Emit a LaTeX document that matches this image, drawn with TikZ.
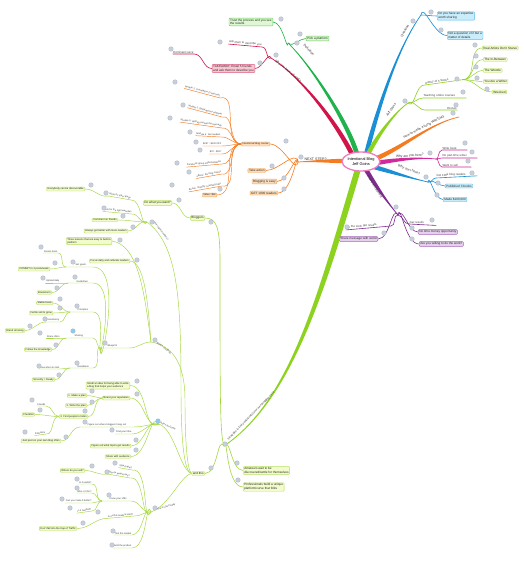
\documentclass[tikz,border=0pt]{standalone}
\usepackage{fontspec}
\setmainfont{Liberation Sans}
\usetikzlibrary{calc,backgrounds,shapes.geometric}
\definecolor{cBlue}{HTML}{1A8FD6}
\definecolor{cBlueL}{HTML}{C9EDFB}
\definecolor{cBlueB}{HTML}{5BBDEB}
\definecolor{cGreen}{HTML}{20B24B}
\definecolor{cGreenL}{HTML}{DDF8D2}
\definecolor{cGreenB}{HTML}{6CCB5F}
\definecolor{cRed}{HTML}{D0154A}
\definecolor{cPinkL}{HTML}{F8C6D3}
\definecolor{cPinkB}{HTML}{DF5A80}
\definecolor{cOrange}{HTML}{F57B20}
\definecolor{cOrangeL}{HTML}{FDDDB9}
\definecolor{cOrangeB}{HTML}{F6A55A}
\definecolor{cLime}{HTML}{8DD21F}
\definecolor{cLimeLn}{HTML}{A3D83C}
\definecolor{cLimeL}{HTML}{F1FBCB}
\definecolor{cLimeB}{HTML}{B9E063}
\definecolor{cMag}{HTML}{D02A9B}
\definecolor{cPurple}{HTML}{7E2D8F}
\definecolor{cPurpleL}{HTML}{E6D0EE}
\definecolor{cPurpleB}{HTML}{A567B5}
\definecolor{cCenter}{HTML}{F07CC0}
\definecolor{cDot}{HTML}{C8CFDA}
\definecolor{cDotB}{HTML}{A9B3C1}
\definecolor{cDotBl}{HTML}{8EC9EE}
\newcommand\taperbr[7]{%
  \path ($(#2)!#6!90:(#3)$) coordinate (tp1) ($(#2)!#6!-90:(#3)$) coordinate (tq1)
        ($(#5)!#7!-90:(#4)$) coordinate (tp2) ($(#5)!#7!90:(#4)$) coordinate (tq2);
  \fill[#1] (tp1) .. controls ($(#3)+(tp1)-(#2)$) and ($(#4)+(tp2)-(#5)$) .. (tp2)
     -- (tq2) .. controls ($(#4)+(tq2)-(#5)$) and ($(#3)+(tq1)-(#2)$) .. (tq1) -- cycle;
}
\tikzset{
 bx/.style={draw, rounded corners=0.9pt, line width=0.4pt, inner xsep=1.1pt, inner ysep=0.9pt, align=left, text=black!85, font=\fontsize{3.1}{3.7}\selectfont},
 bxs/.style={bx, font=\fontsize{2.6}{3.1}\selectfont, inner ysep=0.8pt},
 blbx/.style={bx, fill=cBlueL, draw=cBlueB},
 grbx/.style={bx, fill=cGreenL, draw=cGreenB},
 pkbx/.style={bx, fill=cPinkL, draw=cPinkB},
 orbx/.style={bx, fill=cOrangeL, draw=cOrangeB},
 orbxs/.style={bxs, fill=cOrangeL, draw=cOrangeB},
 lmbx/.style={bx, fill=cLimeL, draw=cLimeB},
 lmbxs/.style={bxs, fill=cLimeL, draw=cLimeB},
 pubx/.style={bx, fill=cPurpleL, draw=cPurpleB},
 lab/.style={font=\fontsize{2.9}{3.4}\selectfont, text=black!75, inner xsep=0.4pt, inner ysep=0.7pt},
 labs/.style={lab, font=\fontsize{2.4}{2.9}\selectfont},
 bl/.style={font=\fontsize{3.3}{3.8}\selectfont, text=black!80, inner sep=0.3pt},
 cn/.style={line width=0.6pt, line cap=round},
 cns/.style={line width=0.45pt, line cap=round},
}
\begin{document}
\begin{tikzpicture}[x=1pt,y=-1pt]
\useasboundingbox (0,0) rectangle (524,563);
% ---------- centre ----------
\draw[cCenter, line width=1.3pt, fill=white] (361,161.5) ellipse (19 and 9.5);
\node[font=\fontsize{3.9}{4.6}\selectfont, align=center, inner sep=0pt] (c) at (361,161.5) {Intentional Blog\\Jeff Goins};
% ---------- branch coordinates ----------
\coordinate (qA) at (366,155); \coordinate (qE) at (421,15);
\coordinate (dA) at (357,154); \coordinate (dE) at (288,43);
\coordinate (rA) at (353,156); \coordinate (rE) at (271,58);
\coordinate (nA) at (346,161); \coordinate (nE) at (298,162);
\coordinate (jA) at (368,154); \coordinate (jE) at (408,103);
\coordinate (oA) at (372,160); \coordinate (oE) at (459,117);
\coordinate (mA) at (376,163); \coordinate (mE) at (436,159);
\coordinate (wA) at (374,167); \coordinate (wE) at (428,182);
\coordinate (pA) at (365,168); \coordinate (pE) at (398,215);
\coordinate (sA) at (358,169); \coordinate (sE) at (224,446);
\coordinate (h1) at (147,222); \coordinate (h2) at (151,342);
\coordinate (h3) at (159,424); \coordinate (h4) at (151,512);
% ---------- Question (blue) ----------
\node[bl, rotate=58] (qL) at (405,31) {Question};
\node[blbx, anchor=west] (q1) at (437,16) {Do you have an expertise\\worth sharing};
\node[blbx, anchor=west] (q2) at (447,35.5) {Not a question of if but a\\matter of details};
% ---------- Definition (green) ----------
\node[bl, rotate=-45] (dL) at (309,50) {Definition};
\node[grbx, anchor=east] (d1) at (273,22) {Trust the process and you see\\the results};
\node[grbx, anchor=west] (d2) at (306,38.5) {Pick a platform};
% ---------- red ----------
\node[bl, rotate=-40, font=\fontsize{3.1}{3.6}\selectfont] (rL) at (288,71) {Why you have a brand?};
\node[lab, anchor=south east, rotate=-5] (r1) at (262,47) {Ask them to describe you};
\node[pkbx, anchor=east] (r2) at (255,68.5) {TAKEAWAY: Email 5 friends\\and ask them to describe you};
\node[lab, anchor=south east] (r3) at (194,54) {Dominant voice};
% ---------- NEXT STEP (orange) ----------
\node[bl, anchor=south west, font=\fontsize{3.6}{4}\selectfont] (nL) at (304,161) {NEXT STEP?};
\node[orbxs, anchor=east] (n1) at (270,144) {Intentional blog course};
\node[orbx, anchor=east] (n2) at (266,170.5) {Take action};
\node[orbx, anchor=east] (n3) at (277,181.5) {Blogging is easy};
\node[orbx, anchor=east] (n4) at (278,193) {GET 1000 readers};
\node[labs, anchor=south east, rotate=-15] (L1) at (220,98) {Module 1: Foundation (3 lessons)};
\node[labs, anchor=south east, rotate=-15] (L2) at (222,117) {Module 2: Building your platform};
\node[labs, anchor=south east, rotate=-8] (L3) at (222,128) {Module 3: Writing content that spreads};
\node[labs, anchor=south east, rotate=-3] (L4) at (221,137) {Module 4: Get readers};
\node[labs, anchor=south east] (L5) at (222,146) {\$297 - \$100 OFF};
\node[labs, anchor=south east] (L6) at (222,154) {\$97 - \$197};
\node[labs, anchor=south east, rotate=5] (L7) at (222,164) {Facebook group implementation};
\node[labs, anchor=south east, rotate=10] (L8) at (222,174) {eBook: the blog course};
\node[labs, anchor=south east, rotate=10] (L9) at (222,186) {Bonus: monthly coaching calls};
\node[orbxs, anchor=east] (L10) at (217,195) {Value: \$1k};
% ---------- Jeff Goins (lime) ----------
\node[bl, rotate=55] (jL) at (391,110) {Jeff Goins};
\node[lab, anchor=south west, rotate=8, text width=37pt] (j1) at (425,85) {Author of 3 books};
\node[lmbx, anchor=west] (b1) at (482,48) {Real Artists Don't Starve};
\node[lmbx, anchor=west] (b2) at (483,59.5) {The In-Between};
\node[lmbx, anchor=west] (b3x) at (483,70.5) {The Wrestle};
\node[lmbx, anchor=west] (b4) at (483,81.5) {You Are a Writer};
\node[lmbx, anchor=west] (b5) at (492,92) {Wrecked};
\node[lab, anchor=south west, text width=42pt] (j2) at (423,98) {Teaching online courses};
\node[lab, anchor=south west, text width=31pt, align=right] (j3) at (425,110) {Drones};
% ---------- How to make a living (orange) ----------
\node[bl, rotate=27] (oL) at (424,127) {How to make a living WRITING};
% ---------- Why are you here (magenta) ----------
\node[bl, anchor=south, rotate=4] (mL) at (410,158) {Why are you here?};
\node[lab, anchor=south west, text width=24pt] (m1) at (442,150) {Write book};
\node[lab, anchor=south west, text width=34pt] (m2) at (442,158) {Do part-time writer};
\node[lab, anchor=south west, text width=28pt] (m3) at (442,167) {Want to sell};
% ---------- Why am I here (blue) ----------
\node[bl, rotate=-20] (wL) at (409,170) {Why am I here?};
\node[lab, anchor=south west, rotate=3, text width=40pt] (w1) at (436,178) {Got 100k blog readers};
\node[blbx, anchor=west] (w2) at (445,186) {Published 3 books};
\node[blbx, anchor=west] (w3) at (443,199.5) {Made \$100,000};
% ---------- Problem Statement (purple) ----------
\node[bl, rotate=-58, font=\fontsize{3}{3.5}\selectfont] (pL) at (375,187) {Problem Statement};
\node[lab, anchor=south east, rotate=5, text width=44pt] (p1) at (391,226) {Do the work get results};
\node[pubx, anchor=east] (p2) at (378,239) {Share message with world};
\node[lab, anchor=south west, rotate=-3, text width=26pt] (p3) at (409,224) {Get results};
\node[pubx, anchor=west] (p4) at (418,232) {No time money opportunity};
\node[pubx, anchor=west] (p5) at (419,244) {Are you willing to do the work?};
% ---------- big lime branch ----------
\node[bl, rotate=46, font=\fontsize{2.7}{3.1}\selectfont] (sL) at (251,416) {Strategies to find (realistically) your own blogging voice};
\node[lmbx, anchor=west] (s1) at (243,470.5) {Amateurs wait to be\\discovered/settle for themselves};
\node[lmbx, anchor=west] (s2) at (243,487) {Professionals build a unique\\platform/curve that folks};
\node[lmbx, anchor=east] (s3) at (205,473.5) {and this};
\node[lmbx, anchor=east] (s4) at (205,218) {Bloggers};
\node[lmbx, anchor=east] (s5) at (172,203) {Do what you want?};
% hub labels
\node[labs, rotate=-52] (h1L) at (161,231) {How to gain readers?};
\node[labs, rotate=-38] (h2L) at (164,348) {Build a roadmap};
\node[labs, rotate=-25] (h3L) at (168,426) {Rules for Goals};
\node[labs, rotate=15] (h4L) at (166,507) {How to start today};
% hub 1
\node[labs, anchor=south east, rotate=-10] (a1) at (131,200) {Write for other blogs};
\node[lmbxs, anchor=east] (a1b) at (85,189) {Everybody can be discoverable};
\node[labs, anchor=south east, rotate=-5] (a2) at (132,214) {Look for the right websites};
\node[lmbxs, anchor=east] (a3) at (118,220) {Comment on friends};
\node[lmbxs, anchor=east] (a4) at (128,231) {Always get better with more readers};
% hub 2
\node[lmbxs, anchor=east] (bb1) at (112,241) {Three lessons that are easy to build a\\platform};
\node[lmbxs, anchor=east] (bb2) at (130,261) {Focus daily and cultivate readers};
\node[labs, anchor=south west, text width=27pt] (bb3) at (101,348) {\hspace*{6pt}Blueprint};
\node[labs, anchor=south west, text width=26pt] (u1) at (66,267) {\hspace*{9pt}Set goals};
\node[labs, anchor=south east] (u1a) at (58,253) {Dream team};
\node[lmbxs, anchor=east] (u1b) at (50,269) {COMMIT to 2 posts/week};
\node[labs, anchor=south west, text width=24pt] (u2) at (68,283) {\hspace*{8pt}Guidelines};
\node[labs, anchor=south east] (u2a) at (60,283) {Upload daily};
\node[lmbxs, anchor=east] (u2b) at (52,292.5) {Brainstorm};
\node[labs, anchor=south west, text width=22pt] (u3) at (70,312) {\hspace*{7pt}Principles};
\node[lmbxs, anchor=east] (u3a) at (53,303) {Stable basis};
\node[lmbxs, anchor=east] (u3b) at (53,313) {Fertile soil to grow};
\node[labs, anchor=south east] (u3c) at (60,322) {Consistency};
\node[lmbxs, anchor=east] (u3d) at (25,330.5) {Brand all along};
\node[labs, anchor=south west, text width=26pt] (u4) at (66,338) {\hspace*{8pt}Sharing};
\node[labs, anchor=south east] (u4a) at (60,338) {Share often};
\node[lmbxs, anchor=east] (u4b) at (52,349.5) {Follow the knowledge};
\node[labs, anchor=south west, text width=22pt] (u5) at (70,368) {\hspace*{7pt}Readiness};
\node[labs, anchor=south east] (u5a) at (60,369) {Know when to start};
\node[lmbxs, anchor=east] (u5b) at (55,379.5) {Sincerity = Ready};
% hub 3
\node[lmbxs, anchor=east] (cc1) at (130,385.5) {Install an idea for being able to write\\a blog that helps your audience};
\node[lmbxs, anchor=east] (cc2) at (130,398) {Brand your reputation};
\node[lmbxs, anchor=east] (cc2a) at (87,395.5) {1. Make a plan};
\node[lmbxs, anchor=east] (cc2b) at (87,405.5) {2. Write the plan};
\node[lmbxs, anchor=east] (cc2c) at (88,416.5) {3. Find people to listen};
\node[labs, anchor=south east] (cc2d) at (46,406) {Friends};
\node[lmbxs, anchor=east] (cc2e) at (35,414.5) {Checklist};
\node[labs, anchor=south east, rotate=8] (cc2f) at (46,434) {Followers};
\node[labs, anchor=south west, text width=52pt] (cc3) at (80,427) {\hspace*{7pt}Figure out where bloggers hang out};
\node[lmbxs, anchor=east] (cc3b) at (61,441) {Just post on your own blog often};
\node[labs, anchor=south east] (cc4) at (132,434) {Find your tribe};
\node[lmbxs, anchor=east] (cc5) at (131,446) {Figure out what topics get results};
\node[lmbxs, anchor=east] (cc6) at (131,456.5) {Share with audience};
% hub 4
\node[labs, anchor=south east, rotate=-10] (e1) at (132,470) {Stand apart};
\node[labs, anchor=south east, rotate=-10] (e2) at (130,478) {Why do people buy?};
\node[lmbxs, anchor=east] (e2b) at (85,470.5) {Where do you sell?};
\node[labs, anchor=south west, text width=28pt] (e3) at (102,501) {\hspace*{7pt}Know your offer};
\node[labs, anchor=south east] (e3a) at (92,484) {Is it useful?};
\node[labs, anchor=south east] (e3b) at (92,493) {Who is it for?};
\node[labs, anchor=south east] (e3c) at (92,503) {Can you make it better?};
\node[labs, anchor=south east, rotate=8] (e3d) at (92,511) {Is it needed?};
\node[labs, anchor=south east, rotate=5] (e4) at (134,516) {Is it what readers want?};
\node[lmbxs, anchor=east] (e4b) at (77,528.5) {Don't fall into the trap of Traffic};
\node[labs, anchor=south east] (e5) at (132,535) {Test the market};
\node[labs, anchor=south east] (e6) at (132,548) {Build the product};
% ---------- markers ----------
\foreach \x/\y in {413/21,431/12,441/30, 297/43,281/19,300/34, 276/55,220/42,260/63,171/49,
  301/157,286/141,272/166,284/178,284/189,
  175/82,183/105,170/118,190/132,196/142,200/150,177/163,189/172,172/185,220/189,
  405/101,457/79,475/45,476/56,476/67,477/78,487/89,463/92,456/105, 453/113,
  430/153,465/143,472/152,468/161, 426/177,472/173,438/183,437/195,
  396/207,347/227,384/233,432/220,412/228,412/239,
  225/444,237/463,238/480,211/468,211/222,179/200,
  152/222,155/340,155/508,
  106/193,91/185,104/208,123/216,133/227, 120/240,137/260,105/343,
  73/262,41/247,55/263,75/277,43/278,57/288,77/306,60/299,60/308,45/319,30/326,40/333,56/345,77/363,39/366,59/375,
  137/381,137/394,92/391,92/402,85/411,32/400,40/410,25/432,85/422,66/437,112/430,136/440,136/450,
  115/463,107/472,92/466,109/495,77/479,77/488,62/499,70/508,98/512,83/523,113/531,112/545}
  {\fill[cDot, draw=cDotB, line width=0.25pt] (\x,\y) circle (2.3);}
\foreach \x/\y in {158/421,73/331}
  {\fill[cDotBl, draw=cDotB, line width=0.25pt] (\x,\y) circle (2.3);}
% ---------- connectors ----------
\begin{pgfonlayer}{background}
\fill[white] (0,0) rectangle (524,563);
\taperbr{cBlue}{qA}{376,115}{396,50}{qE}{2.3pt}{0.35pt}
\taperbr{cGreen}{dA}{346,118}{308,62}{dE}{2.3pt}{0.35pt}
\taperbr{cRed}{rA}{335,120}{300,76}{rE}{2.3pt}{0.35pt}
\taperbr{cOrange}{nA}{330,161}{312,161}{nE}{2.2pt}{0.35pt}
\taperbr{cLime}{jA}{378,135}{395,112}{jE}{2.2pt}{0.35pt}
\taperbr{cOrange}{oA}{400,150}{430,123}{oE}{2.3pt}{0.35pt}
\taperbr{cMag}{mA}{395,160}{418,157}{mE}{2.2pt}{0.35pt}
\taperbr{cBlue}{wA}{392,172}{410,178}{wE}{2.2pt}{0.35pt}
\taperbr{cPurple}{pA}{375,185}{388,203}{pE}{2.2pt}{0.35pt}
\taperbr{cLime}{sA}{322,290}{292,400}{sE}{3pt}{0.4pt}
% blue Q
\draw[cn, cBlue] (qE) to[out=0,in=180] (q1.west);
\draw[cn, cBlue] (qE) to[out=80,in=180] (q2.west);
% green
\draw[cn, cGreen] (dE) to[out=-95,in=0] (d1.east);
\draw[cn, cGreen] (dE) to[out=-40,in=180] (d2.west);
% red
\draw[cn, cRed] (rE) to[out=-150,in=5] (r1.south east) -- (r1.south west);
\draw[cn, cRed] (rE) to[out=110,in=0] (r2.east);
\draw[cn, cRed] (r2.west) to[out=180,in=0] (r3.south east) -- (r3.south west);
% orange next step
\draw[cn, cOrange] (nE) to[out=-100,in=0] (n1.east);
\draw[cn, cOrange] (nE) to[out=100,in=0] (n2.east);
\draw[cn, cOrange] (nE) to[out=95,in=0] (n3.east);
\draw[cn, cOrange] (nE) to[out=92,in=0] (n4.east);
\foreach \k/\a in {L1/15,L2/15,L3/8,L4/3,L5/0,L6/0,L7/-5,L8/-10,L9/-10}
  {\draw[cns, cOrange] (n1.west) to[out=180,in=\a] (\k.south east) -- (\k.south west);}
\draw[cns, cOrange] (n1.west) to[out=180,in=0] (L10.east);
% lime Jeff
\draw[cn, cLime] (jE) to[out=-45,in=172] (j1.south west) -- (j1.south east);
\foreach \b in {b1,b2,b3x,b4,b5}
  {\draw[cns, cLime] (j1.south east) to[out=0,in=180] (\b.west);}
\draw[cn, cLime] (jE) to[out=-10,in=180] (j2.south west) -- (j2.south east);
\draw[cn, cLime] (jE) to[out=30,in=180] (j3.south west) -- (j3.south east);
% magenta
\draw[cn, cMag] (mE) to[out=-60,in=180] (m1.south west) -- (m1.south east);
\draw[cn, cMag] (mE) to[out=0,in=180] (m2.south west) -- (m2.south east);
\draw[cn, cMag] (mE) to[out=60,in=180] (m3.south west) -- (m3.south east);
% blue why am I
\draw[cn, cBlue] (wE) to[out=-30,in=177] (w1.south west) -- (w1.south east);
\draw[cn, cBlue] (wE) to[out=30,in=180] (w2.west);
\draw[cn, cBlue] (wE) to[out=80,in=180] (w3.west);
% purple
\draw[cn, cPurple] (pE) to[out=170,in=-5] (p1.south east) -- (p1.south west);
\draw[cn, cPurple] (pE) to[out=120,in=0] (p2.east);
\draw[cn, cPurple] (pE) to[out=-10,in=183] (p3.south west) -- (p3.south east);
\draw[cn, cPurple] (pE) to[out=60,in=180] (p4.west);
\draw[cn, cPurple] (pE) to[out=80,in=180] (p5.west);
% big lime children
\draw[cn, cLimeLn] (sE) to[out=60,in=180] (s1.west);
\draw[cn, cLimeLn] (sE) to[out=80,in=180] (s2.west);
\draw[cn, cLimeLn] (sE) to[out=120,in=0] (s3.east);
\draw[cn, cLimeLn] (s4.east) .. controls (216,218) and (220,226) .. (220,260) .. controls (220,400) and (220,435) .. (sE);
\draw[cns, cLimeLn] (s5.east) to[out=0,in=180] (s4.west);
% and this -> hubs
\draw[cns, cLimeLn] (s3.west) .. controls (184,472) and (181,440) .. (181,390) .. controls (181,300) and (178,245) .. (h1);
\draw[cns, cLimeLn] (s3.west) .. controls (187,470) and (185,440) .. (185,400) .. controls (185,360) and (170,345) .. (h2);
\draw[cns, cLimeLn] (s3.west) .. controls (180,470) and (175,430) .. (h3);
\draw[cns, cLimeLn] (s3.west) .. controls (180,476) and (170,505) .. (h4);
% hub 1
\draw[cns, cLimeLn] (h1) to[out=-120,in=10] (a1.south east) -- (a1.south west);
\draw[cns, cLimeLn] (a1.south west) to[out=190,in=0] (a1b.east);
\draw[cns, cLimeLn] (h1) to[out=-150,in=5] (a2.south east) -- (a2.south west);
\draw[cns, cLimeLn] (h1) to[out=180,in=0] (a3.east);
\draw[cns, cLimeLn] (h1) to[out=160,in=0] (a4.east);
% hub 2
\draw[cns, cLimeLn] (h2) .. controls (145,300) and (140,245) .. (bb1.east);
\draw[cns, cLimeLn] (h2) .. controls (148,305) and (145,262) .. (bb2.east);
\draw[cns, cLimeLn] (h2) to[out=180,in=0] (bb3.south east) -- (bb3.south west);
\draw[cns, cLimeLn] (bb3.south west) to[out=-95,in=0] (u1.south east) -- (u1.south west);
\draw[cns, cLimeLn] (bb3.south west) to[out=-100,in=0] (u2.south east) -- (u2.south west);
\draw[cns, cLimeLn] (bb3.south west) to[out=-110,in=0] (u3.south east) -- (u3.south west);
\draw[cns, cLimeLn] (bb3.south west) to[out=-150,in=0] (u4.south east) -- (u4.south west);
\draw[cns, cLimeLn] (bb3.south west) to[out=150,in=0] (u5.south east) -- (u5.south west);
\draw[cns, cLimeLn] (u1.south west) to[out=180,in=0] (u1a.south east) -- (u1a.south west);
\draw[cns, cLimeLn] (u1.south west) to[out=180,in=0] (u1b.east);
\draw[cns, cLimeLn] (u2.south west) to[out=180,in=0] (u2a.south east) -- (u2a.south west);
\draw[cns, cLimeLn] (u2.south west) to[out=180,in=0] (u2b.east);
\draw[cns, cLimeLn] (u3.south west) to[out=180,in=0] (u3a.east);
\draw[cns, cLimeLn] (u3.south west) to[out=180,in=0] (u3b.east);
\draw[cns, cLimeLn] (u3.south west) to[out=180,in=0] (u3c.south east) -- (u3c.south west);
\draw[cns, cLimeLn] (u3c.south west) to[out=180,in=0] (u3d.east);
\draw[cns, cLimeLn] (u4.south west) to[out=180,in=0] (u4a.south east) -- (u4a.south west);
\draw[cns, cLimeLn] (u4.south west) to[out=180,in=0] (u4b.east);
\draw[cns, cLimeLn] (u5.south west) to[out=180,in=0] (u5a.south east) -- (u5a.south west);
\draw[cns, cLimeLn] (u5.south west) to[out=180,in=0] (u5b.east);
% hub 3
\draw[cns, cLimeLn] (h3) to[out=-150,in=0] (cc1.east);
\draw[cns, cLimeLn] (h3) to[out=-160,in=0] (cc2.east);
\draw[cns, cLimeLn] (cc2.west) to[out=180,in=0] (cc2a.east);
\draw[cns, cLimeLn] (cc2.west) to[out=180,in=0] (cc2b.east);
\draw[cns, cLimeLn] (cc2.west) to[out=180,in=0] (cc2c.east);
\draw[cns, cLimeLn] (cc2c.west) to[out=180,in=0] (cc2d.south east) -- (cc2d.south west);
\draw[cns, cLimeLn] (cc2c.west) to[out=180,in=0] (cc2e.east);
\draw[cns, cLimeLn] (cc2c.west) to[out=180,in=-8] (cc2f.south east) -- (cc2f.south west);
\draw[cns, cLimeLn] (h3) to[out=180,in=0] (cc3.south east) -- (cc3.south west);
\draw[cns, cLimeLn] (cc3.south west) to[out=180,in=0] (cc3b.east);
\draw[cns, cLimeLn] (h3) to[out=170,in=0] (cc4.south east) -- (cc4.south west);
\draw[cns, cLimeLn] (h3) to[out=150,in=0] (cc5.east);
\draw[cns, cLimeLn] (h3) to[out=120,in=0] (cc6.east);
% hub 4
\draw[cns, cLimeLn] (h4) to[out=-120,in=10] (e1.south east) -- (e1.south west);
\draw[cns, cLimeLn] (h4) to[out=-130,in=10] (e2.south east) -- (e2.south west);
\draw[cns, cLimeLn] (e2.south west) to[out=190,in=0] (e2b.east);
\draw[cns, cLimeLn] (h4) to[out=-170,in=0] (e3.south east) -- (e3.south west);
\draw[cns, cLimeLn] (e3.south west) to[out=180,in=0] (e3a.south east) -- (e3a.south west);
\draw[cns, cLimeLn] (e3.south west) to[out=180,in=0] (e3b.south east) -- (e3b.south west);
\draw[cns, cLimeLn] (e3.south west) to[out=180,in=0] (e3c.south east) -- (e3c.south west);
\draw[cns, cLimeLn] (e3.south west) to[out=180,in=-8] (e3d.south east) -- (e3d.south west);
\draw[cns, cLimeLn] (h4) to[out=175,in=-5] (e4.south east) -- (e4.south west);
\draw[cns, cLimeLn] (e4.south west) to[out=180,in=0] (e4b.east);
\draw[cns, cLimeLn] (h4) to[out=130,in=0] (e5.south east) -- (e5.south west);
\draw[cns, cLimeLn] (h4) to[out=110,in=0] (e6.south east) -- (e6.south west);
\end{pgfonlayer}
\end{tikzpicture}
\end{document}
